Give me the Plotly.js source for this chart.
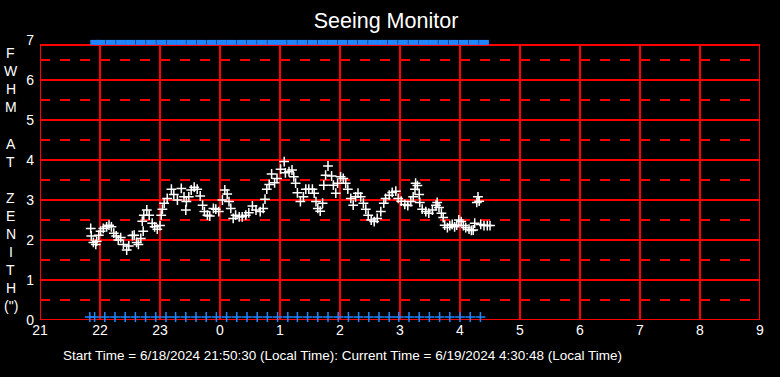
<!DOCTYPE html>
<html>
<head>
<meta charset="utf-8">
<script src="https://cdn.plot.ly/plotly-3.0.1.min.js"></script>
<style>
  html, body { margin: 0; padding: 0; background: #000; }
  #chart { width: 780px; height: 377px; }
</style>
</head>
<body>
<div id="chart"></div>
<script>
// ---- data (hours since midnight of 6/18; 24+ = next day) ----
const seeingTime = [
  21.845,21.855,21.89,21.93,21.945,21.98,22.01,22.055,22.11,22.15,22.19,22.23,22.27,22.305,22.345,22.39,22.445,22.48,
  22.54,22.57,22.61,22.64,22.68,22.705,22.72,22.73,22.78,22.82,22.87,22.91,22.955,23.00,23.02,23.04,23.07,23.12,
  23.19,23.23,23.29,23.355,23.40,23.43,23.44,23.48,23.52,23.57,23.62,23.67,23.71,23.74,23.79,23.83,23.89,23.93,
  23.98,24.04,24.08,24.12,24.15,24.18,24.22,24.26,24.32,24.37,24.43,24.48,24.54,24.60,24.67,24.72,24.75,24.78,
  24.82,24.86,24.91,24.95,25.01,25.07,25.09,25.15,25.20,25.23,25.26,25.29,25.34,25.39,25.43,25.48,25.54,25.57,
  25.60,25.63,25.67,25.71,25.73,25.76,25.80,25.86,25.89,25.93,25.96,26.01,26.055,26.095,26.13,26.18,26.22,26.26,
  26.30,26.345,26.39,26.43,26.47,26.52,26.57,26.62,26.68,26.73,26.76,26.82,26.87,26.93,26.97,27.02,27.08,27.13,
  27.18,27.22,27.25,27.26,27.29,27.32,27.33,27.37,27.43,27.48,27.54,27.60,27.62,27.65,27.69,27.72,27.745,27.79,
  27.83,27.87,27.91,27.945,27.98,28.02,28.055,28.095,28.15,28.19,28.22,28.245,28.28,28.30,28.32,28.345,28.40,28.455,28.50
];
const seeingFwhm = [
  2.29,2.10,1.94,1.89,1.97,2.12,2.22,2.29,2.33,2.37,2.33,2.17,2.10,2.00,2.06,1.89,1.75,1.85,
  2.11,2.12,1.94,1.89,2.04,2.47,2.22,2.62,2.75,2.62,2.42,2.33,2.27,2.36,2.62,2.77,2.92,3.04,
  3.27,3.14,3.00,3.29,3.08,2.75,2.96,3.08,3.25,3.32,3.27,3.10,2.87,2.71,2.62,2.60,2.79,2.77,
  2.71,3.00,3.25,3.15,2.96,2.79,2.54,2.62,2.58,2.58,2.62,2.68,2.85,2.75,2.71,2.79,3.02,3.27,
  3.39,3.65,3.43,3.54,3.77,3.96,3.68,3.71,3.75,3.58,3.42,3.18,2.96,3.08,3.27,3.27,3.27,3.17,
  2.96,2.79,2.72,2.92,3.37,3.62,3.85,3.60,3.37,3.17,3.42,3.58,3.54,3.42,3.27,3.04,2.87,3.08,
  3.17,3.08,2.92,2.77,2.62,2.50,2.46,2.54,2.71,2.92,3.04,3.12,3.19,3.22,3.04,2.97,2.89,2.86,
  2.96,3.08,3.27,3.42,3.36,3.14,2.94,2.77,2.71,2.67,2.75,2.87,2.94,2.81,2.67,2.56,2.37,2.31,
  2.36,2.39,2.33,2.37,2.50,2.46,2.36,2.31,2.27,2.24,2.25,2.42,2.94,3.08,2.97,2.39,2.36,2.36,2.36
];
// status markers along the top edge and the bottom edge
const topMarkTime = [
  21.92,22.01,22.18,22.35,22.51,22.68,22.85,23.02,23.19,23.35,23.52,23.69,23.86,24.03,24.19,24.36,24.53,24.70,24.87,
  25.03,25.20,25.37,25.54,25.71,25.87,26.04,26.21,26.38,26.55,26.71,26.88,27.05,27.22,27.39,27.55,27.72,27.89,28.06,28.23,28.40
];
const topMarkValue = topMarkTime.map(() => 6.94);
const bottomMarkTime = [
  21.83,21.91,22.08,22.25,22.42,22.59,22.76,22.93,23.10,23.26,23.43,23.60,23.77,23.94,24.11,24.28,24.45,24.62,24.79,
  24.96,25.13,25.29,25.46,25.63,25.80,25.97,26.14,26.31,26.48,26.65,26.82,26.98,27.15,27.32,27.49,27.66,27.83,28.00,28.17,28.34
];
const bottomMarkValue = bottomMarkTime.map(() => 0.075);

const xTickVals = [21,22,23,24,25,26,27,28,29,30,31,32,33];
const xTickText = ["21","22","23","0","1","2","3","4","5","6","7","8","9"];
const yTickVals = [0,1,2,3,4,5,6,7];
const yTitleLetters = ["F","W","H","M","","A","T","","Z","E","N","I","T","H","(\")"];
const titleText = "Seeing Monitor";
const footerText = "Start Time = 6/18/2024 21:50:30 (Local Time): Current Time = 6/19/2024 4:30:48 (Local Time)";

// ---- styling / layout ----
const RED = "#ff0000";
const BLUE = "#1f86ff";
const FONT = "Liberation Sans, Arial, sans-serif";
const xMin = 21, xMax = 33, yTop = 6.875;

const shapes = [];
xTickVals.forEach(v => {
  shapes.push({type:"line", layer:"below", xref:"x", yref:"y", x0:v, x1:v, y0:0, y1:yTop,
               line:{color:RED, width:2}});
});
[0,1,2,3,4,5,6,yTop].forEach(v => {
  shapes.push({type:"line", layer:"below", xref:"x", yref:"y", x0:xMin, x1:xMax, y0:v, y1:v,
               line:{color:RED, width:2}});
});
[0.5,1.5,2.5,3.5,4.5,5.5,6.5].forEach(v => {
  shapes.push({type:"line", layer:"below", xref:"x", yref:"y", x0:xMin, x1:xMax, y0:v, y1:v,
               line:{color:RED, width:2, dash:"10px,10px"}});
});

const annotations = [];
yTitleLetters.forEach((ch, i) => {
  if (!ch) return;
  const py = 53.3 + i * 18.06;
  annotations.push({text: ch, xref:"paper", yref:"paper", x:(11-40)/720, y:(320-py)/280,
    xanchor:"center", yanchor:"middle", showarrow:false,
    font:{family:FONT, size:14, color:"#ffffff"}});
});
annotations.push({text: footerText, xref:"paper", yref:"paper", x:(342-40)/720, y:(320-355)/280,
  xanchor:"center", yanchor:"middle", showarrow:false,
  font:{family:FONT, size:13.5, color:"#ffffff"}});

const traces = [
  {x: topMarkTime, y: topMarkValue, type:"scatter", mode:"markers", cliponaxis:false, hoverinfo:"skip",
   marker:{symbol:"line-ew", size:7, color:BLUE, line:{color:BLUE, width:5}}},
  {x: bottomMarkTime, y: bottomMarkValue, type:"scatter", mode:"markers", cliponaxis:false, hoverinfo:"skip",
   marker:{symbol:"cross-thin", size:7, color:BLUE, line:{color:BLUE, width:1.5}}},
  {x: seeingTime, y: seeingFwhm, type:"scatter", mode:"markers", cliponaxis:false,
   marker:{symbol:"cross-thin", size:7, color:"#ffffff", line:{color:"#ffffff", width:1.5}}}
];

const layout = {
  width: 780, height: 377,
  paper_bgcolor:"#000000", plot_bgcolor:"#000000",
  margin:{l:40, r:20, t:40, b:57, pad:0},
  showlegend:false,
  title:{text:titleText, x:386/780, xref:"container", y:1-20/377, yref:"container",
         xanchor:"center", yanchor:"middle", font:{family:FONT, size:21.5, color:"#ffffff"}},
  xaxis:{range:[xMin,xMax], tickvals:xTickVals, ticktext:xTickText, showgrid:false, zeroline:false,
         showline:false, ticks:"", tickfont:{family:FONT, size:14, color:"#ffffff"}, fixedrange:true},
  yaxis:{range:[0,7], tickvals:yTickVals, showgrid:false, zeroline:false, showline:false, ticks:"",
         ticklabelstandoff:5,
         tickfont:{family:FONT, size:14, color:"#ffffff"}, fixedrange:true},
  shapes: shapes,
  annotations: annotations
};

Plotly.newPlot("chart", traces, layout, {staticPlot:true, displayModeBar:false});
</script>
</body>
</html>
